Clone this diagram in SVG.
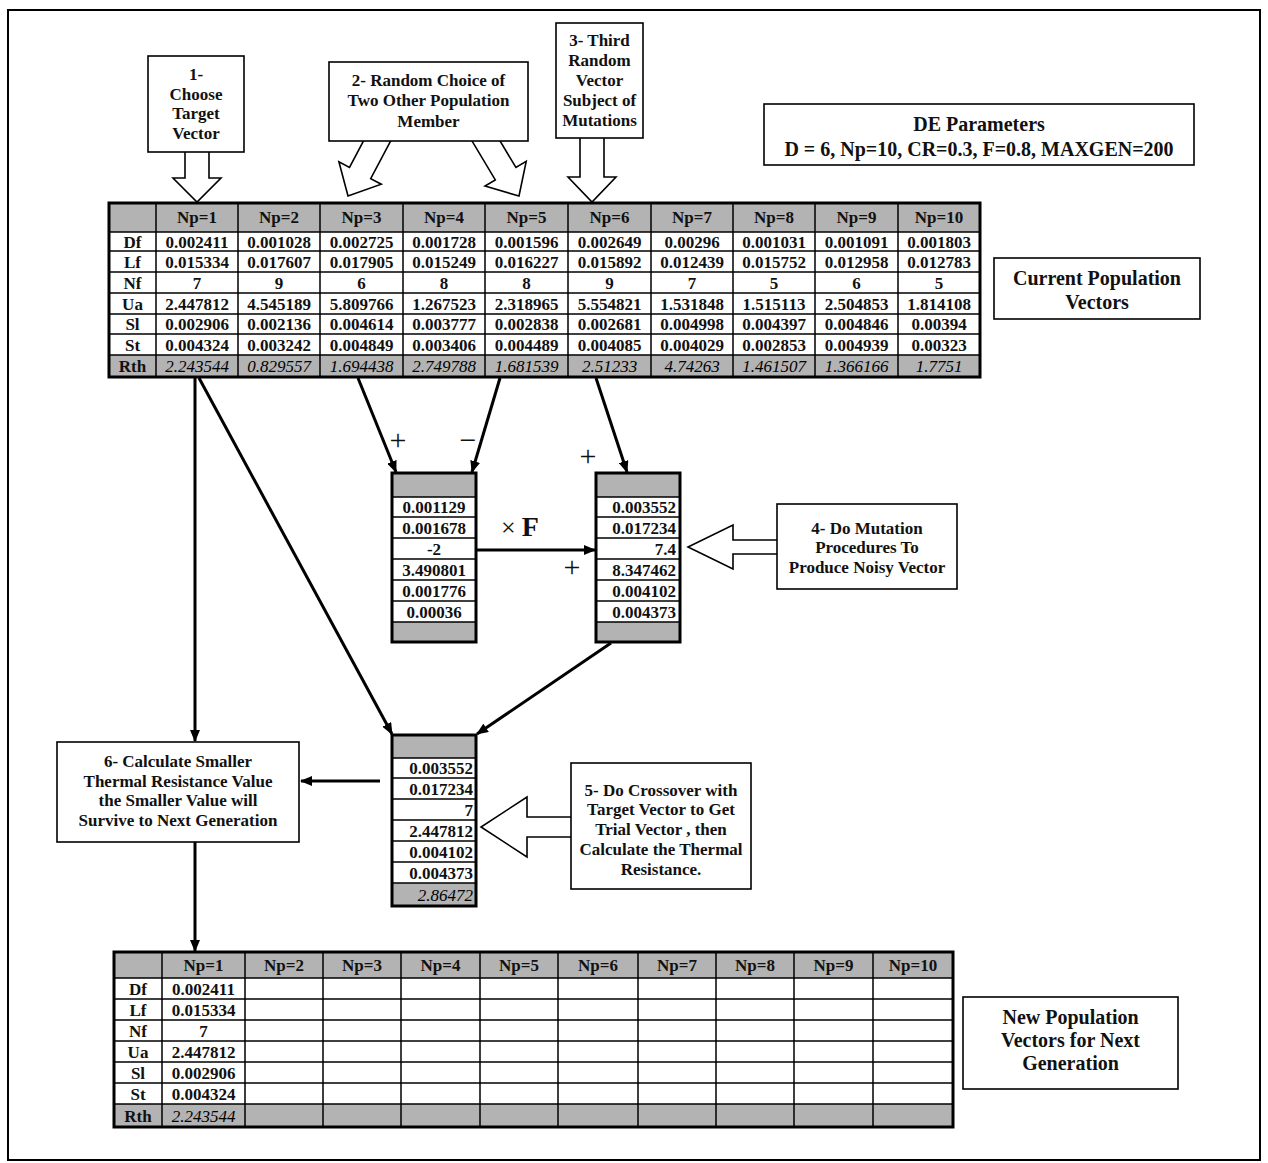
<svg xmlns="http://www.w3.org/2000/svg" width="1268" height="1163" viewBox="0 0 1268 1163">
<style>
text{font-family:"Liberation Serif","Times New Roman",serif;font-weight:bold;font-size:17px;text-anchor:middle;fill:#111}
.it{font-style:italic;font-weight:normal;fill:#000}
.r{text-anchor:end}
.big{font-size:20px}
.sym{font-weight:normal;font-size:30px}
.box{fill:#fff;stroke:#000;stroke-width:1.6}
.hollow{fill:#fff;stroke:#000;stroke-width:1.6}
.gray{fill:#b3b3b3}
.grid{stroke:#000;stroke-width:1.5;fill:none}
.outer{stroke:#000;stroke-width:3;fill:none}
.conn{stroke:#000;stroke-width:3;fill:none;marker-end:url(#ah)}
</style>
<defs>
<marker id="ah" markerUnits="userSpaceOnUse" markerWidth="12" markerHeight="10" refX="11" refY="5" orient="auto">
<path d="M0,0 L12,5 L0,10 z" fill="#000"/>
</marker>
</defs>
<rect x="0" y="0" width="1268" height="1163" fill="#fff"/>
<rect x="8" y="10" width="1252" height="1150" fill="none" stroke="#000" stroke-width="2"/>

<!-- hollow callout arrows (behind boxes) -->
<g id="callout-arrows">
<polygon class="hollow" points="185,150 209,150 209,178 221,178 197,202 173,178 185,178"/>
<polygon class="hollow" points="392.3,137.8 370.7,178.6 381.3,184.2 348,196 338.9,161.8 349.5,167.4 371.1,126.6"/>
<polygon class="hollow" points="491.2,126.2 515.9,167.5 526.2,161.3 519,196 485,186.1 495.3,179.9 470.6,138.6"/>
<polygon class="hollow" points="580,136 604,136 604,177 616,177 592,202 568,177 580,177"/>
<polygon class="hollow" points="780,540 733,540 733,525 688,547 733,569 733,554 780,554"/>
<polygon class="hollow" points="574,817 527,817 527,797 481,827 527,857 527,837 574,837"/>
</g>

<g id="callout1">
<rect class="box" x="148" y="56" width="96" height="96"/>
<text x="196" y="80">1-</text>
<text x="196" y="99.5">Choose</text>
<text x="196" y="119">Target</text>
<text x="196" y="138.5">Vector</text>
</g>
<g id="callout2">
<rect class="box" x="329" y="62" width="199" height="79"/>
<text x="428.5" y="86">2- Random Choice of</text>
<text x="428.5" y="106">Two Other Population</text>
<text x="428.5" y="127">Member</text>
</g>
<g id="callout3">
<rect class="box" x="556" y="23" width="87" height="115"/>
<text x="599.5" y="46">3- Third</text>
<text x="599.5" y="66">Random</text>
<text x="599.5" y="86">Vector</text>
<text x="599.5" y="106">Subject of</text>
<text x="599.5" y="126">Mutations</text>
</g>
<g id="de-params">
<rect class="box" x="764" y="104" width="430" height="61"/>
<text class="big" x="979" y="131">DE Parameters</text>
<text class="big" x="979" y="156">D = 6, Np=10, CR=0.3, F=0.8, MAXGEN=200</text>
</g>
<g id="current-label">
<rect class="box" x="994" y="258" width="206" height="61"/>
<text class="big" x="1097" y="285">Current Population</text>
<text class="big" x="1097" y="309">Vectors</text>
</g>

<g id="current-table">
<rect class="gray" x="109" y="203" width="871" height="29"/>
<rect class="gray" x="109" y="355" width="871" height="22"/>
<path class="grid" d="M109,232H980M109,251H980M109,272H980M109,293H980M109,314H980M109,334H980M109,355H980M156,203V377M238,203V377M320,203V377M403,203V377M485,203V377M568,203V377M651,203V377M733,203V377M815,203V377M898,203V377"/>
<rect class="outer" x="109" y="203" width="871" height="174"/>
<g>
<text x="197" y="223">Np=1</text><text x="279" y="223">Np=2</text><text x="361.5" y="223">Np=3</text><text x="444" y="223">Np=4</text><text x="526.5" y="223">Np=5</text><text x="609.5" y="223">Np=6</text><text x="692" y="223">Np=7</text><text x="774" y="223">Np=8</text><text x="856.5" y="223">Np=9</text><text x="939" y="223">Np=10</text>
<text x="132.5" y="247.5">Df</text><text x="132.5" y="267.5">Lf</text><text x="132.5" y="288.5">Nf</text><text x="132.5" y="309.5">Ua</text><text x="132.5" y="330">Sl</text><text x="132.5" y="350.5">St</text><text x="132.5" y="372">Rth</text>
<text x="197" y="247.5">0.002411</text><text x="279" y="247.5">0.001028</text><text x="361.5" y="247.5">0.002725</text><text x="444" y="247.5">0.001728</text><text x="526.5" y="247.5">0.001596</text><text x="609.5" y="247.5">0.002649</text><text x="692" y="247.5">0.00296</text><text x="774" y="247.5">0.001031</text><text x="856.5" y="247.5">0.001091</text><text x="939" y="247.5">0.001803</text>
<text x="197" y="267.5">0.015334</text><text x="279" y="267.5">0.017607</text><text x="361.5" y="267.5">0.017905</text><text x="444" y="267.5">0.015249</text><text x="526.5" y="267.5">0.016227</text><text x="609.5" y="267.5">0.015892</text><text x="692" y="267.5">0.012439</text><text x="774" y="267.5">0.015752</text><text x="856.5" y="267.5">0.012958</text><text x="939" y="267.5">0.012783</text>
<text x="197" y="288.5">7</text><text x="279" y="288.5">9</text><text x="361.5" y="288.5">6</text><text x="444" y="288.5">8</text><text x="526.5" y="288.5">8</text><text x="609.5" y="288.5">9</text><text x="692" y="288.5">7</text><text x="774" y="288.5">5</text><text x="856.5" y="288.5">6</text><text x="939" y="288.5">5</text>
<text x="197" y="309.5">2.447812</text><text x="279" y="309.5">4.545189</text><text x="361.5" y="309.5">5.809766</text><text x="444" y="309.5">1.267523</text><text x="526.5" y="309.5">2.318965</text><text x="609.5" y="309.5">5.554821</text><text x="692" y="309.5">1.531848</text><text x="774" y="309.5">1.515113</text><text x="856.5" y="309.5">2.504853</text><text x="939" y="309.5">1.814108</text>
<text x="197" y="330">0.002906</text><text x="279" y="330">0.002136</text><text x="361.5" y="330">0.004614</text><text x="444" y="330">0.003777</text><text x="526.5" y="330">0.002838</text><text x="609.5" y="330">0.002681</text><text x="692" y="330">0.004998</text><text x="774" y="330">0.004397</text><text x="856.5" y="330">0.004846</text><text x="939" y="330">0.00394</text>
<text x="197" y="350.5">0.004324</text><text x="279" y="350.5">0.003242</text><text x="361.5" y="350.5">0.004849</text><text x="444" y="350.5">0.003406</text><text x="526.5" y="350.5">0.004489</text><text x="609.5" y="350.5">0.004085</text><text x="692" y="350.5">0.004029</text><text x="774" y="350.5">0.002853</text><text x="856.5" y="350.5">0.004939</text><text x="939" y="350.5">0.00323</text>
<text class="it" x="197" y="372">2.243544</text><text class="it" x="279" y="372">0.829557</text><text class="it" x="361.5" y="372">1.694438</text><text class="it" x="444" y="372">2.749788</text><text class="it" x="526.5" y="372">1.681539</text><text class="it" x="609.5" y="372">2.51233</text><text class="it" x="692" y="372">4.74263</text><text class="it" x="774" y="372">1.461507</text><text class="it" x="856.5" y="372">1.366166</text><text class="it" x="939" y="372">1.7751</text>
</g>
</g>

<g id="difference-vector">
<rect class="gray" x="392" y="473" width="84" height="24"/>
<rect class="gray" x="392" y="622" width="84" height="20"/>
<path class="grid" d="M392,497H476M392,517H476M392,538H476M392,559H476M392,580H476M392,601H476M392,622H476"/>
<rect class="outer" x="392" y="473" width="84" height="169"/>
<text x="434" y="513">0.001129</text>
<text x="434" y="533.5">0.001678</text>
<text x="434" y="554.5">-2</text>
<text x="434" y="575.5">3.490801</text>
<text x="434" y="596.5">0.001776</text>
<text x="434" y="617.5">0.00036</text>
</g>

<g id="noisy-vector">
<rect class="gray" x="596" y="473" width="84" height="24"/>
<rect class="gray" x="596" y="622" width="84" height="20"/>
<path class="grid" d="M596,497H680M596,517H680M596,538H680M596,559H680M596,580H680M596,601H680M596,622H680"/>
<rect class="outer" x="596" y="473" width="84" height="169"/>
<text class="r" x="676" y="513">0.003552</text>
<text class="r" x="676" y="533.5">0.017234</text>
<text class="r" x="676" y="554.5">7.4</text>
<text class="r" x="676" y="575.5">8.347462</text>
<text class="r" x="676" y="596.5">0.004102</text>
<text class="r" x="676" y="617.5">0.004373</text>
</g>

<g id="callout4">
<rect class="box" x="777" y="504" width="180" height="85"/>
<text x="867" y="534">4- Do Mutation</text>
<text x="867" y="553">Procedures To</text>
<text x="867" y="573">Produce Noisy Vector</text>
</g>

<g id="trial-vector">
<rect class="gray" x="392" y="735" width="84" height="23"/>
<rect class="gray" x="392" y="883" width="84" height="23"/>
<path class="grid" d="M392,758H476M392,778H476M392,799H476M392,820H476M392,841H476M392,862H476M392,883H476"/>
<rect class="outer" x="392" y="735" width="84" height="171"/>
<text class="r" x="473" y="774">0.003552</text>
<text class="r" x="473" y="794.5">0.017234</text>
<text class="r" x="473" y="815.5">7</text>
<text class="r" x="473" y="836.5">2.447812</text>
<text class="r" x="473" y="857.5">0.004102</text>
<text class="r" x="473" y="878.5">0.004373</text>
<text class="it r" x="473" y="900.5">2.86472</text>
</g>

<g id="callout5">
<rect class="box" x="571" y="763" width="180" height="126"/>
<text x="661" y="796">5- Do Crossover with</text>
<text x="661" y="815">Target Vector to Get</text>
<text x="661" y="835">Trial Vector , then</text>
<text x="661" y="855">Calculate the Thermal</text>
<text x="661" y="875">Resistance.</text>
</g>

<g id="callout6">
<rect class="box" x="57" y="742" width="242" height="100"/>
<text x="178" y="767">6- Calculate Smaller</text>
<text x="178" y="786.5">Thermal Resistance Value</text>
<text x="178" y="806">the Smaller Value will</text>
<text x="178" y="825.5">Survive to Next Generation</text>
</g>

<g id="new-table">
<rect class="gray" x="114" y="952" width="839" height="26"/>
<rect class="gray" x="114" y="1104" width="839" height="23"/>
<path class="grid" d="M114,978H953M114,999H953M114,1020H953M114,1041H953M114,1062H953M114,1083H953M114,1104H953M162,952V1127M245,952V1127M323,952V1127M401,952V1127M480,952V1127M558,952V1127M638,952V1127M716,952V1127M794,952V1127M873,952V1127"/>
<rect class="outer" x="114" y="952" width="839" height="175"/>
<text x="203.5" y="971">Np=1</text><text x="284" y="971">Np=2</text><text x="362" y="971">Np=3</text><text x="440.5" y="971">Np=4</text><text x="519" y="971">Np=5</text><text x="598" y="971">Np=6</text><text x="677" y="971">Np=7</text><text x="755" y="971">Np=8</text><text x="833.5" y="971">Np=9</text><text x="913" y="971">Np=10</text>
<text x="138" y="994.5">Df</text><text x="138" y="1015.5">Lf</text><text x="138" y="1036.5">Nf</text><text x="138" y="1057.5">Ua</text><text x="138" y="1078.5">Sl</text><text x="138" y="1099.5">St</text><text x="138" y="1121.5">Rth</text>
<text x="203.5" y="994.5">0.002411</text><text x="203.5" y="1015.5">0.015334</text><text x="203.5" y="1036.5">7</text><text x="203.5" y="1057.5">2.447812</text><text x="203.5" y="1078.5">0.002906</text><text x="203.5" y="1099.5">0.004324</text><text class="it" x="203.5" y="1121.5">2.243544</text>
</g>

<g id="new-label">
<rect class="box" x="963" y="997" width="215" height="92"/>
<text class="big" x="1070.5" y="1024">New Population</text>
<text class="big" x="1070.5" y="1047">Vectors for Next</text>
<text class="big" x="1070.5" y="1070">Generation</text>
</g>

<g id="connectors">
<line class="conn" x1="195" y1="378" x2="195" y2="741"/>
<line class="conn" x1="195" y1="842" x2="195" y2="951"/>
<line class="conn" x1="199" y1="378" x2="392" y2="734"/>
<line class="conn" x1="358" y1="378" x2="396" y2="472"/>
<line class="conn" x1="500" y1="378" x2="472" y2="472"/>
<line class="conn" x1="596" y1="378" x2="627" y2="472"/>
<line class="conn" x1="476" y1="550" x2="595" y2="550"/>
<line class="conn" x1="611" y1="643" x2="477" y2="734"/>
<line class="conn" x1="380" y1="781" x2="301" y2="781"/>
</g>

<g id="operators">
<text class="sym" x="398" y="450">+</text>
<text class="sym" x="468" y="450">−</text>
<text class="sym" x="588" y="466">+</text>
<text class="sym" x="572" y="577">+</text>
<text x="520" y="536"><tspan font-size="26" font-weight="normal">×</tspan><tspan font-size="28" dx="6">F</tspan></text>
</g>
</svg>
